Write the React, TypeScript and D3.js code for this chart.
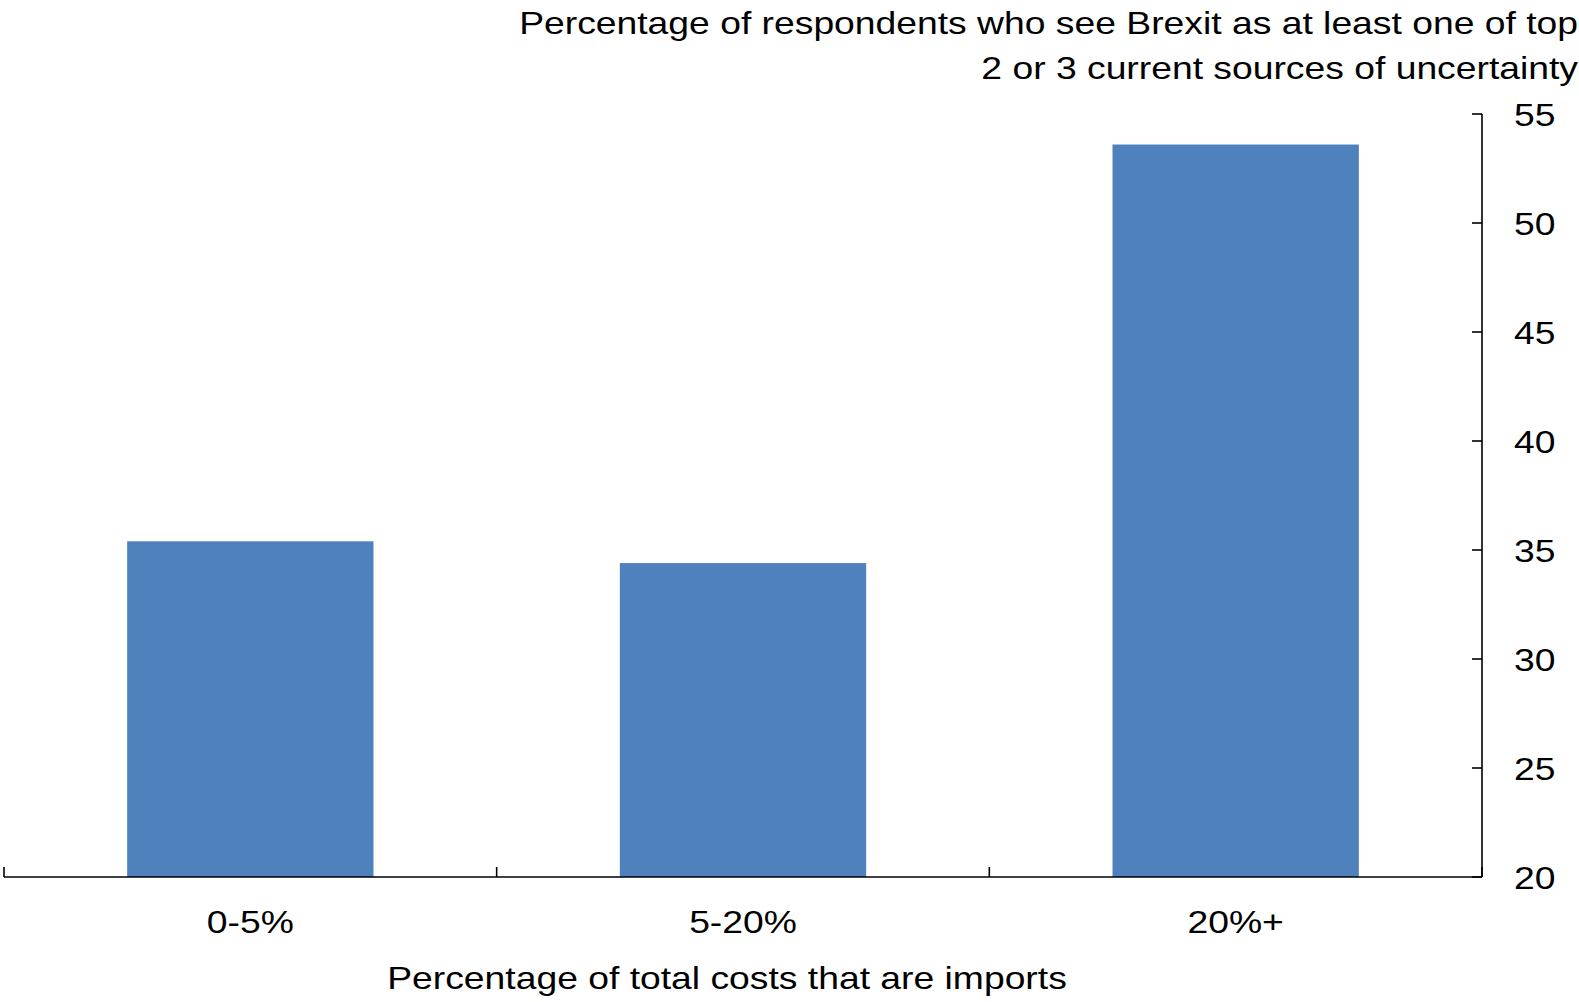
import React from "react";
import * as d3 from "d3";

const categories = ["0-5%", "5-20%", "20%+"];
const values = [35.4, 34.4, 53.6];
const yTicks = [20, 25, 30, 35, 40, 45, 50, 55];
const titleLines = [
  "Percentage of respondents who see Brexit as at least one of top",
  "2 or 3 current sources of uncertainty",
];
const xTitle = "Percentage of total costs that are imports";

const SX = 1.165;

function T({ x, y, anchor = "start", children }: { x: number; y: number; anchor?: string; children: React.ReactNode }) {
  return (
    <text transform={`translate(${x},${y}) scale(${SX},1)`} fontSize={32} textAnchor={anchor} fill="#000">
      {children}
    </text>
  );
}

export default function App() {
  const W = 1579, H = 1002;
  const left = 4, right = 1482, top = 114, bottom = 877;
  const x = d3.scaleBand<string>().domain(categories).range([left, right]).paddingInner(0.5).paddingOuter(0.25);
  const y = d3.scaleLinear().domain([20, 55]).range([bottom, top]);
  const font = "Liberation Sans, Arial, sans-serif";
  const step = (right - left) / categories.length;
  const tickXs = d3.range(categories.length + 1).map((i) => left + i * step);
  return (
    <svg width={W} height={H} style={{ position: "absolute", left: 0, top: 0, background: "#fff" }} fontFamily={font}>
      {categories.map((c, i) => (
        <rect key={c} x={x(c)} y={y(values[i])} width={x.bandwidth()} height={bottom - y(values[i])} fill="#4F81BD" />
      ))}
      <line x1={left} x2={right} y1={bottom} y2={bottom} stroke="#000" strokeWidth={1.6} />
      {tickXs.map((t, i) => (
        <line key={i} x1={t} x2={t} y1={bottom} y2={bottom - 10} stroke="#000" strokeWidth={1.6} />
      ))}
      <line x1={right} x2={right} y1={top} y2={bottom} stroke="#000" strokeWidth={1.6} />
      {yTicks.map((t) => (
        <g key={t}>
          <line x1={right - 10} x2={right} y1={y(t)} y2={y(t)} stroke="#000" strokeWidth={1.6} />
          <T x={1514} y={y(t) + 11.5}>{t}</T>
        </g>
      ))}
      {categories.map((c) => (
        <T key={c} x={(x(c) as number) + x.bandwidth() / 2} y={933} anchor="middle">{c}</T>
      ))}
      <T x={727} y={989} anchor="middle">{xTitle}</T>
      {titleLines.map((l, i) => (
        <T key={i} x={1578} y={34 + i * 45} anchor="end">{l}</T>
      ))}
    </svg>
  );
}
